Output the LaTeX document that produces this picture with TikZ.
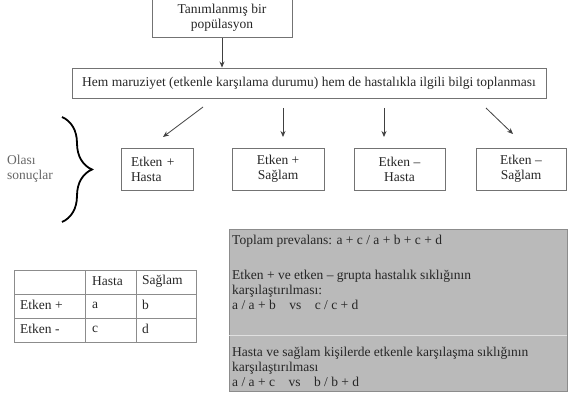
\documentclass[tikz,border=0pt]{standalone}
\usepackage{fontspec}
\setmainfont{Liberation Serif}
\usetikzlibrary{arrows.meta,decorations.pathreplacing}
\begin{document}
\begin{tikzpicture}[x=1pt,y=-1pt,font=\fontsize{13.5}{15.2}\selectfont,
  box/.style={draw=black!55,line width=0.9pt,inner sep=0pt,text=black!85},
  arr/.style={-{Stealth[length=6pt,width=5pt]},draw=black!75,line width=0.8pt},
  cell/.style={anchor=west,inner sep=0pt,text=black!85}]
\useasboundingbox (0,0) rectangle (572,406);

\node[box,align=center,minimum width=140pt,minimum height=40pt,anchor=south] (pop) at (222,38) {Tanımlanmış bir\\popülasyon};
\node[box,minimum width=474pt,minimum height=30pt] (hem) at (309,83) {Hem maruziyet (etkenle karşılama durumu) hem de hastalıkla ilgili bilgi toplanması};
\draw[arr] (pop.south) -- (pop.south |- hem.north);

\node[box,align=left,text width=52pt,inner xsep=10pt,minimum height=42pt] (ehasta) at (157,169) {Etken +\\Hasta};
\node[box,align=center,minimum width=92pt,minimum height=42pt] (esaglam) at (278,169) {Etken +\\Sağlam};
\node[box,align=center,minimum width=91pt,minimum height=42pt] (yhasta) at (399.5,169) {Etken –\\Hasta};
\node[box,align=center,minimum width=90pt,minimum height=42pt] (ysaglam) at (521,169) {Etken –\\Sağlam};

\coordinate (a1) at (203,107); \coordinate (b1) at (163,137);
\coordinate (a2) at (283,108); \coordinate (b2) at (283,137);
\coordinate (a3) at (384,108); \coordinate (b3) at (384,137);
\coordinate (a4) at (486,108); \coordinate (b4) at (513,134);
\draw[arr] (a1) -- (b1);
\draw[arr] (a2) -- (b2);
\draw[arr] (a3) -- (b3);
\draw[arr] (a4) -- (b4);

% possible outcomes
\draw[decorate,decoration={brace,amplitude=30pt},line width=1.8pt] (62,117) -- (62,222);
\node[anchor=west,align=left,text=black!60,inner sep=0pt] (olasi) at (7,169) {Olası\\sonuçlar};

% 2x2 table
\draw[black!45,line width=0.8pt] (14,270) rectangle (196,342);
\draw[black!45,line width=0.8pt] (85,270) -- (85,342);
\draw[black!45,line width=0.8pt] (136,270) -- (136,342);
\draw[black!45,line width=0.8pt] (14,294) -- (196,294);
\draw[black!45,line width=0.8pt] (14,318) -- (196,318);
\node[cell] (thasta) at (92,281) {Hasta};
\node[cell] (tsaglam) at (142,281) {Sağlam};
\node[cell] (tarti) at (20,305) {Etken +};
\node[cell] (ta) at (92,305) {a};
\node[cell] (tb) at (142,305) {b};
\node[cell] (teksi) at (20,329) {Etken -};
\node[cell] (tc) at (92,329) {c};
\node[cell] (td) at (142,329) {d};

% grey box
\draw[fill=black!27,draw=black!45,line width=0.9pt] (229,229) rectangle (567,391);
\draw[black!12,line width=0.9pt] (229,335) -- (567,335);
\node[cell] (prev) at (232,241) {Toplam prevalans: a + c / a + b + c + d};
\node[cell,align=left] (kar1) at (232,290) {Etken + ve etken – grupta hastalık sıklığının\\karşılaştırılması:\\a / a + b\quad vs\quad c / c + d};
\node[cell,align=left] (kar2) at (232,367) {Hasta ve sağlam kişilerde etkenle karşılaşma sıklığının\\karşılaştırılması\\a / a + c\quad vs\quad b / b + d};
\end{tikzpicture}
\end{document}
